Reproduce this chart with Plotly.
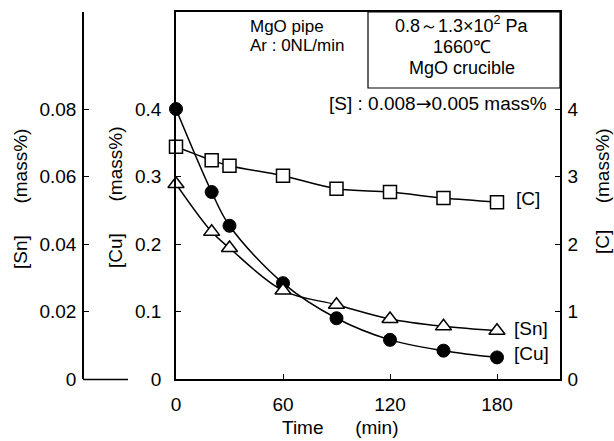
import plotly.graph_objects as go

# ---- data ----
time_min = [0, 20, 30, 60, 90, 120, 150, 180]
cu_mass = [0.400, 0.277, 0.227, 0.142, 0.090, 0.058, 0.042, 0.032]
sn_mass = [0.0578, 0.0436, 0.0388, 0.0262, 0.0220, 0.0178, 0.0156, 0.0143]
c_mass = [3.44, 3.24, 3.16, 3.01, 2.82, 2.77, 2.68, 2.62]

cu_ticks = [0, 0.1, 0.2, 0.3, 0.4]
cu_ticktext = ["0", "0.1", "0.2", "0.3", "0.4"]
sn_ticks = [0, 0.02, 0.04, 0.06, 0.08]
sn_ticktext = ["0", "0.02", "0.04", "0.06", "0.08"]
c_ticks = [0, 1, 2, 3, 4]
time_ticks = [0, 60, 120, 180]

W, H = 614, 441
FONT = "Liberation Sans, Arial, Helvetica, sans-serif"
FS = 19


def px(x):
    return x / W


def py(y):
    return 1 - y / H


fig = go.Figure()

line_style = dict(color="black", width=1.5, shape="spline", smoothing=1.0)

fig.add_trace(go.Scatter(
    x=time_min, y=c_mass, yaxis="y2", mode="lines+markers",
    line=line_style,
    marker=dict(symbol="square", size=13, color="white",
                line=dict(color="black", width=1.5)),
    showlegend=False, cliponaxis=False))

fig.add_trace(go.Scatter(
    x=time_min, y=sn_mass, yaxis="y3", mode="lines+markers",
    line=line_style,
    marker=dict(symbol="triangle-up", size=14, color="white",
                line=dict(color="black", width=1.5)),
    showlegend=False, cliponaxis=False))

fig.add_trace(go.Scatter(
    x=time_min, y=cu_mass, yaxis="y", mode="lines+markers",
    line=line_style,
    marker=dict(symbol="circle", size=13, color="black",
                line=dict(color="black", width=1)),
    showlegend=False, cliponaxis=False))

x0, x1 = 176, 560
ytop, ybot = 12, 379
cu_top = (ybot - ytop) / 675.0

axis_common = dict(showgrid=False, zeroline=False, showline=True,
                   linecolor="black", linewidth=1.5, automargin=False,
                   ticks="inside", ticklen=5, tickwidth=1.2, tickcolor="black",
                   tickfont=dict(family=FONT, size=FS, color="black"))

fig.update_layout(
    width=W, height=H, autosize=False,
    margin=dict(l=0, r=0, t=0, b=0, pad=0, autoexpand=False),
    paper_bgcolor="white", plot_bgcolor="white",
    font=dict(family=FONT, size=FS, color="black"),
    xaxis=dict(domain=[px(x0), px(x1)], range=[0, 180 * (x1 - x0) / (497 - 176)],
               tickvals=time_ticks, mirror=True, ticklabelstandoff=7,
               **axis_common),
    yaxis=dict(domain=[py(ybot), py(ytop)], range=[0, cu_top],
               tickvals=cu_ticks, ticktext=cu_ticktext, ticklabelstandoff=9,
               **axis_common),
    yaxis2=dict(overlaying="y", side="right", range=[0, cu_top * 10],
                tickvals=c_ticks, ticklabelstandoff=2, **axis_common),
    yaxis3=dict(overlaying="y", side="left", anchor="free", position=px(83),
                range=[0, cu_top / 5], tickvals=sn_ticks, ticktext=sn_ticktext,
                ticklabelstandoff=2, **axis_common),
)

# short baseline under the [Sn] axis
fig.add_shape(type="line", xref="paper", yref="paper",
              x0=px(83), x1=px(128), y0=py(ybot + 0.5), y1=py(ybot + 0.5),
              line=dict(color="black", width=1.5))

# condition box
fig.add_shape(type="rect", xref="paper", yref="paper",
              x0=px(368), x1=px(x1), y0=py(88), y1=py(ytop),
              line=dict(color="black", width=1.2), fillcolor="rgba(0,0,0,0)")

NB = "\u00a0"


def ann(text, x, y, xanchor="center", size=FS, angle=0):
    fig.add_annotation(text=text, x=px(x), y=py(y), xref="paper", yref="paper",
                       xanchor=xanchor, yanchor="middle", showarrow=False,
                       textangle=angle,
                       font=dict(family=FONT, size=size, color="black"))


ann("MgO pipe", 248, 27, "left", 17)
ann("Ar : 0NL/min", 248, 45, "left", 17)
ann("0.8～1.3×10<sup>2</sup> Pa", 462, 25, "center", 18)
ann("1660℃", 462, 47, "center", 18)
ann("MgO crucible", 462, 68, "center", 18)
ann("[S] : 0.008<span style='font-family:DejaVu Sans'>→</span>0.005 mass%",
    549, 103, "right", 19)

ann("[C]", 514, 198, "left", 19)
ann("[Sn]", 512, 328, "left", 19)
ann("[Cu]", 512, 353, "left", 19)

ann("[Sn]" + NB * 6 + "(mass%)", 20, 199, "center", FS, -90)
ann("[Cu]" + NB * 6 + "(mass%)", 115, 198, "center", FS, -90)
ann("[C]" + NB * 5 + "(mass%)", 602, 191, "center", FS, -90)
ann("Time" + NB * 6 + "(min)", 340, 427, "center", FS)

fig.write_html(
    "out.html",
    config={"displayModeBar": False, "responsive": False},
    post_script=(
        "var s=document.documentElement.style;s.margin='0';s.padding='0';"
        "s.overflow='hidden';s.height='441px';"
        "var b=document.body.style;b.margin='0';b.padding='0';"
        "b.overflow='hidden';b.height='441px';"
    ),
)
